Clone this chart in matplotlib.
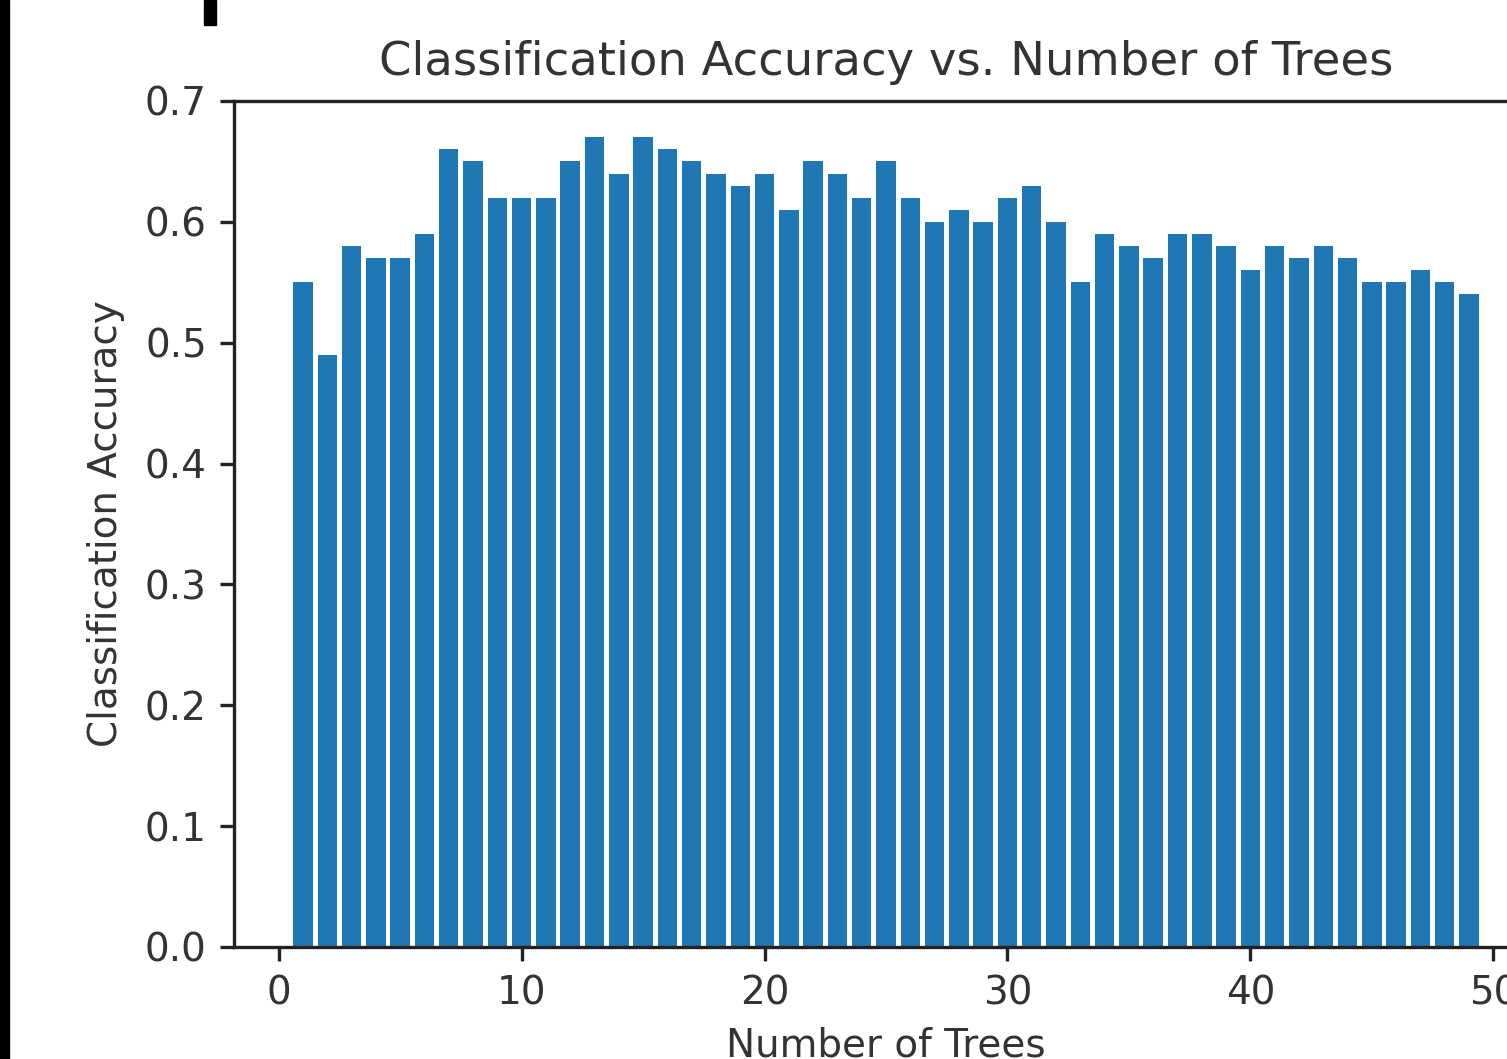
import matplotlib
matplotlib.use("Agg")
import matplotlib.pyplot as plt
from matplotlib.patches import Rectangle

# ---------------------------------------------------------------------------
# Data
# ---------------------------------------------------------------------------
n_trees = list(range(1, 50))
accuracy = [
    0.55, 0.49, 0.58, 0.57, 0.57, 0.59, 0.66, 0.65, 0.62, 0.62,
    0.62, 0.65, 0.67, 0.64, 0.67, 0.66, 0.65, 0.64, 0.63, 0.64,
    0.61, 0.65, 0.64, 0.62, 0.65, 0.62, 0.60, 0.61, 0.60, 0.62,
    0.63, 0.60, 0.55, 0.59, 0.58, 0.57, 0.59, 0.59, 0.58, 0.56,
    0.58, 0.57, 0.58, 0.57, 0.55, 0.55, 0.56, 0.55, 0.54,
]
x_ticks = [0, 10, 20, 30, 40, 50]
y_ticks = [0.0, 0.1, 0.2, 0.3, 0.4, 0.5, 0.6, 0.7]

# ---------------------------------------------------------------------------
# Style: small notebook figure scaled up ~3.9x
# ---------------------------------------------------------------------------
plt.rcParams.update({
    "font.family":       "DejaVu Sans",
    "font.size":         28,
    "axes.linewidth":    2.4,
    "axes.edgecolor":    "#222222",
    "xtick.color":       "#222222",
    "ytick.color":       "#222222",
    "xtick.major.size":  9.8,
    "ytick.major.size":  9.8,
    "xtick.major.width": 2.4,
    "ytick.major.width": 2.4,
    "xtick.major.pad":   9.8,
    "ytick.major.pad":   9.8,
})

W, H = 1507, 1059
fig = plt.figure(figsize=(W / 100, H / 100), dpi=100)
ax = fig.add_axes([234 / W, 1 - 947 / H, 1304 / W, 846 / H])

ax.bar(n_trees, accuracy, color="#1f77b4")
ax.set_xlim(-1.84, 51.84)
ax.set_ylim(0, 0.7)
ax.set_xticks(x_ticks)
ax.set_yticks(y_ticks)
ax.tick_params(labelcolor="#333333", labelsize=28)
ax.set_xlabel("Number of Trees", fontsize=28, color="#333333", labelpad=10)
ax.set_ylabel("Classification Accuracy", fontsize=28, color="#333333", labelpad=14)
ax.set_title("Classification Accuracy vs. Number of Trees", fontsize=33.5,
             color="#333333", pad=19)

# screenshot border artefacts
fig.patches.append(Rectangle((0, 0), 9 / W, 1, transform=fig.transFigure,
                             color="black", zorder=10))
fig.patches.append(Rectangle((204 / W, 1 - 25 / H), 12 / W, 25 / H,
                             transform=fig.transFigure, color="black", zorder=10))

fig.savefig("out.png", dpi=100)
